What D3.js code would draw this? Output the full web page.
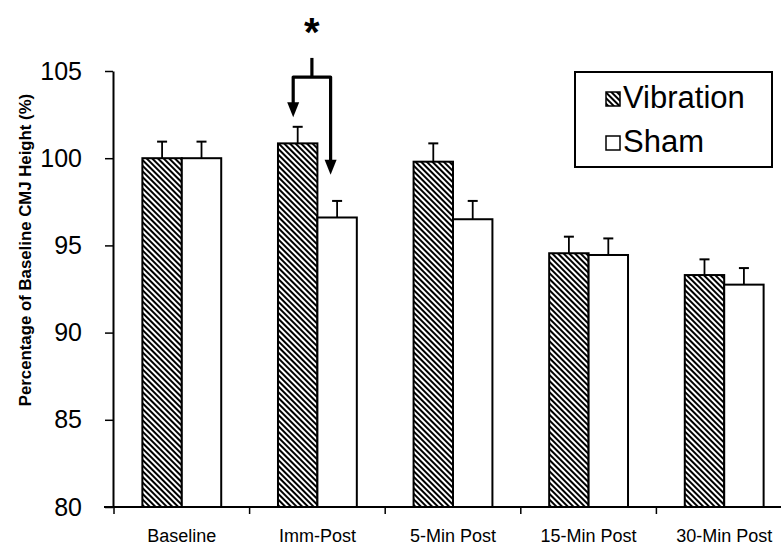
<!DOCTYPE html>
<html>
<head>
<meta charset="utf-8">
<script src="https://cdn.jsdelivr.net/npm/d3@7"></script>
<style>
  body { margin: 0; background: #fff; }
  svg { display: block; font-family: "Liberation Sans", Arial, sans-serif; }
</style>
</head>
<body>
<div id="chart"></div>
<script>
// data
const categories = ["Baseline", "Imm-Post", "5-Min Post", "15-Min Post", "30-Min Post"];
const seriesNames = ["Vibration", "Sham"];
const vibration = [100.0, 100.85, 99.8, 94.55, 93.3];
const sham = [100.0, 96.6, 96.5, 94.45, 92.75];
const vibrationSE = [0.95, 0.95, 1.05, 0.95, 0.9];
const shamSE = [0.95, 0.95, 1.05, 0.95, 0.95];
const yTicks = [80, 85, 90, 95, 100, 105];
// significance bracket (Imm-Post): stem top, bracket level, arrow tips
const sigStem = [105.75, 104.65];
const sigTips = [102.35, 99.05];

const W = 781, H = 555;

const svg = d3.select("#chart").append("svg")
    .attr("width", W)
    .attr("height", H);

let defs = svg.append("defs");
let pat = defs.append("pattern")
    .attr("id", "hatch")
    .attr("patternUnits", "userSpaceOnUse")
    .attr("width", 4)
    .attr("height", 4)
    .attr("patternTransform", "rotate(45)");
pat.append("rect").attr("width", 4).attr("height", 4).attr("fill", "#fff");
pat.append("line")
    .attr("x1", 0).attr("y1", 1).attr("x2", 4).attr("y2", 1)
    .attr("stroke", "#000").attr("stroke-width", 2);

let x = d3.scaleBand()
    .domain(categories)
    .range([114, 792])
    .padding(0);

let xs = d3.scaleBand()
    .domain(seriesNames)
    .range([0, x.bandwidth()])
    .paddingInner(0)
    .paddingOuter(0.72);

let y = d3.scaleLinear()
    .domain([80, 105])
    .range([507, 71]);

let rows = categories.map((c, i) => ({
    cat: c,
    values: [
        { name: "Vibration", v: vibration[i], se: vibrationSE[i] },
        { name: "Sham", v: sham[i], se: shamSE[i] }
    ]
}));

// error bars (drawn first so bar outline covers the base)
let groups = svg.selectAll(".grp")
    .data(rows)
    .enter()
    .append("g")
    .attr("class", "grp")
    .attr("transform", d => `translate(${x(d.cat)},0)`);

groups.selectAll(".err")
    .data(d => d.values)
    .enter()
    .append("line")
    .attr("class", "err")
    .attr("x1", d => xs(d.name) + xs.bandwidth() / 2)
    .attr("x2", d => xs(d.name) + xs.bandwidth() / 2)
    .attr("y1", d => y(d.v))
    .attr("y2", d => y(d.v + d.se))
    .attr("stroke", "#000")
    .attr("stroke-width", 1.8);

groups.selectAll(".cap")
    .data(d => d.values)
    .enter()
    .append("line")
    .attr("class", "cap")
    .attr("x1", d => xs(d.name) + xs.bandwidth() / 2 - 5)
    .attr("x2", d => xs(d.name) + xs.bandwidth() / 2 + 5)
    .attr("y1", d => y(d.v + d.se))
    .attr("y2", d => y(d.v + d.se))
    .attr("stroke", "#000")
    .attr("stroke-width", 2);

groups.selectAll(".bar")
    .data(d => d.values)
    .enter()
    .append("rect")
    .attr("class", "bar")
    .attr("x", d => xs(d.name))
    .attr("y", d => y(d.v))
    .attr("width", xs.bandwidth())
    .attr("height", d => y(80) - y(d.v))
    .attr("fill", d => d.name === "Vibration" ? "url(#hatch)" : "#fff")
    .attr("stroke", "#000")
    .attr("stroke-width", 2);

// y axis
let yAxis = svg.append("g")
    .attr("transform", "translate(113,0)")
    .call(d3.axisLeft(y).tickValues(yTicks).tickSize(8).tickPadding(23).tickSizeOuter(0));
yAxis.select(".domain").attr("stroke-width", 2);
yAxis.selectAll(".tick line").attr("stroke-width", 1.5);
yAxis.selectAll("text")
    .style("font-size", "25px")
    .style("fill", "#000")
    .style("font-family", "'Liberation Sans', Arial, sans-serif");

// x axis (labels at band centres, ticks at band edges)
let xAxis = svg.append("g")
    .attr("transform", "translate(0,507)")
    .call(d3.axisBottom(x).tickSize(0).tickPadding(22).tickSizeOuter(0));
xAxis.select(".domain").remove();
xAxis.selectAll("text")
    .style("font-size", "18px")
    .style("fill", "#000")
    .style("font-family", "'Liberation Sans', Arial, sans-serif");

svg.append("line")
    .attr("x1", 104).attr("x2", W)
    .attr("y1", y(80)).attr("y2", y(80))
    .attr("stroke", "#000").attr("stroke-width", 2);

svg.selectAll(".xtick")
    .data(categories)
    .enter()
    .append("line")
    .attr("class", "xtick")
    .attr("x1", d => x(d)).attr("x2", d => x(d))
    .attr("y1", y(80)).attr("y2", y(80) + 7)
    .attr("stroke", "#000").attr("stroke-width", 1.5);

// y axis title
svg.append("text")
    .attr("transform", "translate(31,250) rotate(-90)")
    .attr("text-anchor", "middle")
    .style("font-size", "16.8px")
    .style("font-weight", "bold")
    .text("Percentage of Baseline CMJ Height (%)");

// significance bracket
let cx = x("Imm-Post");
let lx = cx + xs("Vibration") + xs.bandwidth() / 2 - 4.5;
let rx = cx + xs("Sham") + xs.bandwidth() / 2 - 6.5;
let mx = (lx + rx) / 2;
let sig = svg.append("g").attr("stroke", "#000").attr("stroke-width", 3.2).attr("fill", "none");
sig.append("line").attr("x1", mx).attr("x2", mx).attr("y1", y(sigStem[0])).attr("y2", y(sigStem[1]));
sig.append("path")
    .attr("d", `M${lx},${y(sigTips[0]) - 12} L${lx},${y(sigStem[1])} L${rx},${y(sigStem[1])} L${rx},${y(sigTips[1]) - 12}`)
    .attr("stroke-linejoin", "round");
[[lx, sigTips[0]], [rx, sigTips[1]]].forEach(([ax, v]) => {
    svg.append("path")
        .attr("d", `M${ax - 6},${y(v) - 15} L${ax + 6},${y(v) - 15} L${ax},${y(v)} Z`)
        .attr("fill", "#000");
});
svg.append("text")
    .attr("x", mx)
    .attr("y", 46)
    .attr("text-anchor", "middle")
    .style("font-size", "40px")
    .style("font-weight", "bold")
    .text("*");

// legend
let legend = svg.append("g");
legend.append("rect")
    .attr("x", 575).attr("y", 72)
    .attr("width", 197).attr("height", 95)
    .attr("fill", "#fff")
    .attr("stroke", "#000")
    .attr("stroke-width", 2);

legend.selectAll(".legend-item")
    .data(seriesNames)
    .enter()
    .append("g")
    .attr("class", "legend-item")
    .attr("transform", (d, i) => `translate(606, ${108 + i * 44})`)
    .each(function(d) {
        let g = d3.select(this);
        g.append("rect")
            .attr("x", 0).attr("y", -16)
            .attr("width", 14).attr("height", 14)
            .attr("fill", d === "Vibration" ? "url(#hatch)" : "#fff")
            .attr("stroke", "#000")
            .attr("stroke-width", 1.5);
        g.append("text")
            .attr("x", 17)
            .attr("y", 0)
            .style("font-size", "31px")
            .style("fill", "#000")
            .text(d);
    });
</script>
</body>
</html>
